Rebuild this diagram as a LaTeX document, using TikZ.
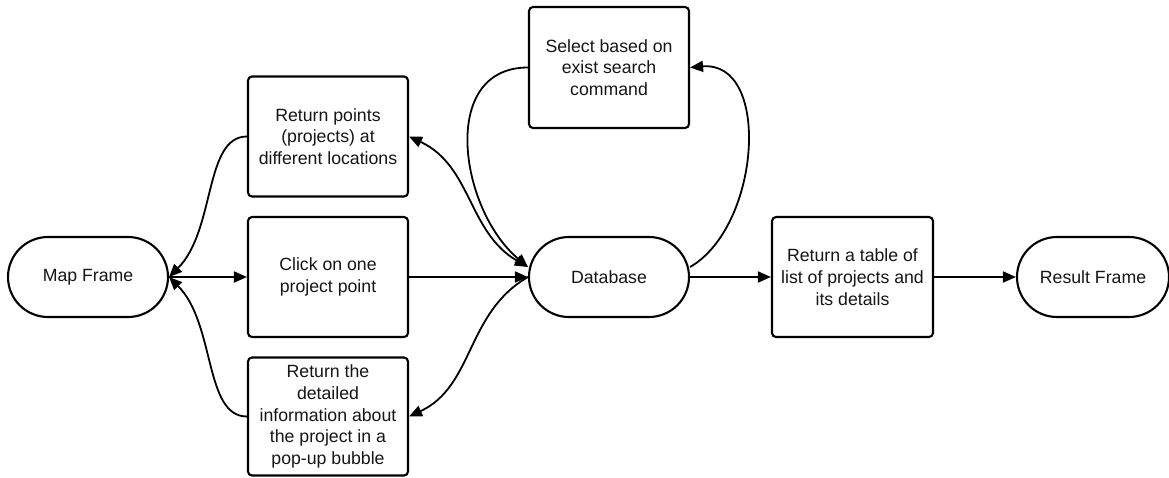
\documentclass[tikz,border=0pt]{standalone}
\usepackage{fontspec}
\setmainfont{Liberation Sans}
\usetikzlibrary{arrows.meta}
\definecolor{txt}{HTML}{151515}
\begin{document}
\begin{tikzpicture}[x=1pt,y=1pt,
  lbl/.style={font=\fontsize{17.7pt}{21.7pt}\selectfont, text=txt, align=center},
  box/.style={lbl, draw=black, line width=2.1pt, rounded corners=4pt,
    minimum width=160pt, minimum height=120pt, inner sep=0pt},
  term/.style={lbl, draw=black, line width=2.1pt, rounded corners=40pt,
    minimum width=160pt, minimum height=80pt, inner sep=0pt},
  conn/.style={line width=1.8pt, -{Triangle[length=13pt,width=11pt]}},
  dconn/.style={line width=1.8pt, {Triangle[length=13pt,width=11pt]}-{Triangle[length=13pt,width=11pt]}},
]
\useasboundingbox (0,0) rectangle (1169,-477);
% nodes
\node[term] (map) at (88,-277) {Map Frame};
\node[box] (rp) at (328,-136.5) {Return points\\(projects) at\\different locations};
\node[box] (click) at (328,-277) {Click on one\\project point};
\node[box, minimum height=118pt] (det) at (328,-416.5) {Return the\\detailed\\information about\\the project in a\\pop-up bubble};
\node[box, minimum height=121pt] (sel) at (609,-67.5) {Select based on\\exist search\\command};
\node[term] (db) at (609,-277) {Database};
\node[box, minimum width=161pt] (tab) at (852.5,-277) {Return a table of\\list of projects and\\its details};
\node[term, minimum width=152pt] (res) at (1093,-277) {Result Frame};
% connectors
\draw[conn] (map.east) -- (click.west);
\draw[conn] (rp.west) to[out=180,in=45,out distance=43pt,in distance=66pt] (map.east);
\draw[conn] (det.west) to[out=180,in=-45,out distance=43pt,in distance=66pt] (map.east);
\draw[conn] (click.east) -- (db.west);
\draw[dconn] (rp.east) to[out=-25,in=150] ([yshift=10pt]db.west);
\draw[conn] (sel.west) to[out=180,in=140,looseness=1.15] ([yshift=10pt]db.west);
\draw[conn] ([yshift=10pt]db.east) to[out=30,in=5,looseness=1.05] (sel.east);
\draw[conn] (db.west) to[out=210,in=25] (det.east);
\draw[conn] (db.east) -- (tab.west);
\draw[conn] (tab.east) -- (res.west);
\end{tikzpicture}
\end{document}
